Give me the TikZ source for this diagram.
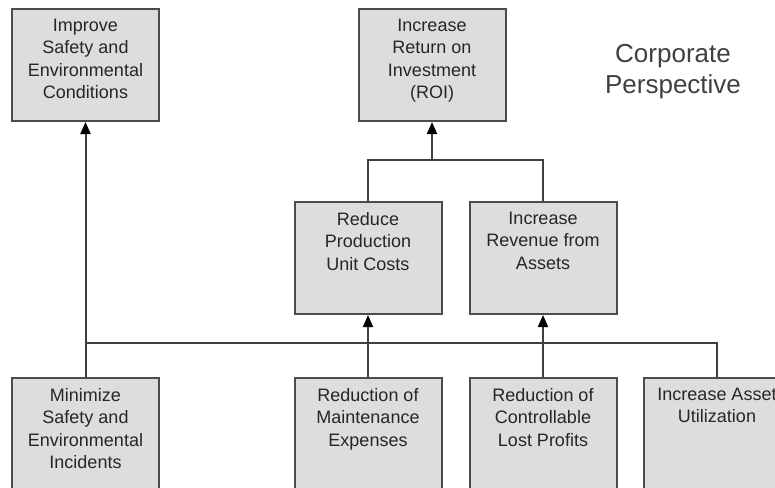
\documentclass[tikz,border=0pt]{standalone}
\usepackage{fontspec}
\setmainfont{Liberation Sans}
\usetikzlibrary{arrows.meta}

% top aligned text inside the goal boxes
\newcommand{\goaltext}[1]{\parbox[t][112pt][t]{146pt}{\centering\vspace*{10pt}#1}}

\begin{document}
\begin{tikzpicture}[x=1pt, y=-1pt,
    goal/.style={draw=black!70, line width=2pt, fill=gray!27, anchor=north,
        inner sep=0pt, minimum width=147pt, minimum height=112pt,
        text=black!85, font=\fontsize{18}{22.5}\selectfont},
    link/.style={draw=black!75, line width=2pt},
    arr/.style={link, -{Triangle[length=12pt, width=10pt, color=black]}}]

\useasboundingbox (0,0) rectangle (775,487);
\clip (0,0) rectangle (775,487);

% corporate goals
\node[goal] (improve) at (85.5,8) {\goaltext{Improve\\Safety and\\Environmental\\Conditions}};
\node[goal] (roi) at (432,8) {\goaltext{Increase\\Return on\\Investment\\(ROI)}};

\node (persp) at (673,72) [align=center, text=black!75,
    font=\fontsize{26}{31}\selectfont] {Corporate\\Perspective};

% middle level
\node[goal] (reduce) at (368,201) {\goaltext{Reduce\\Production\\Unit Costs}};
\node[goal] (revenue) at (543,201) {\goaltext{Increase\\Revenue from\\Assets}};

% bottom level
\node[goal] (minimize) at (85.5,377) {\goaltext{Minimize\\Safety and\\Environmental\\Incidents}};
\node[goal] (maint) at (368,377) {\goaltext{Reduction of\\Maintenance\\Expenses}};
\node[goal] (lost) at (543,377) {\goaltext{Reduction of\\Controllable\\Lost Profits}};
\node[goal] (assetutil) at (717,377) {\goaltext{Increase Asset\\Utilization}};

\coordinate (topbar) at (0,160);
\coordinate (bus) at (0,343);
\coordinate (roijoin) at (roi.south |- topbar);

% connectors
\draw[link] (reduce.north) |- (roijoin) -| (revenue.north);
\draw[arr] (roijoin) -- (roi.south);

\draw[link] (minimize.north |- bus) -| (assetutil.north);
\draw[arr] (minimize.north) -- (improve.south);
\draw[arr] (maint.north) -- (reduce.south);
\draw[arr] (lost.north) -- (revenue.south);

\end{tikzpicture}
\end{document}
